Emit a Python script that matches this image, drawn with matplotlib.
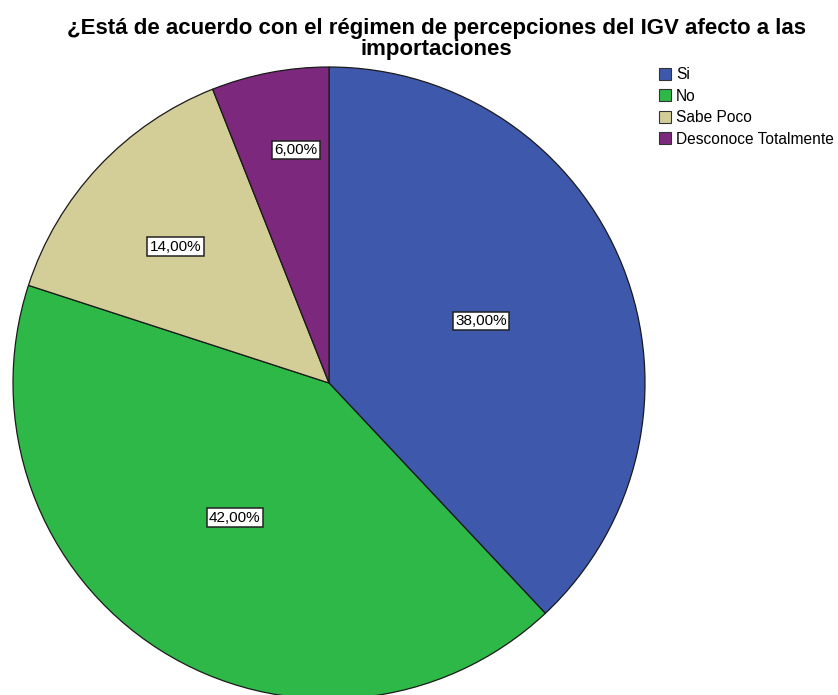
import matplotlib
matplotlib.use("Agg")
import matplotlib.pyplot as plt
import numpy as np
from matplotlib.patches import Patch

categories = ["Si", "No", "Sabe Poco", "Desconoce Totalmente"]
values = [38.0, 42.0, 14.0, 6.0]
colors = ["#3E58AC", "#2EB848", "#D3CE97", "#7B287D"]
title = "¿Está de acuerdo con el régimen de percepciones del IGV afecto a las\nimportaciones"

plt.rcParams['font.family'] = ['Liberation Sans', 'DejaVu Sans']

W, H = 838, 695
fig = plt.figure(figsize=(W / 100, H / 100), dpi=100)
fig.patch.set_facecolor("white")

cx, cy, r = 329, 383, 316
ax = fig.add_axes([(cx - r) / W, (H - cy - r) / H, 2 * r / W, 2 * r / H])

wedges, _ = ax.pie(values, colors=colors, startangle=90, counterclock=False,
                   radius=1, center=(0, 0),
                   wedgeprops=dict(edgecolor="#1a1a1a", linewidth=0.9))
for w in wedges:
    w.set_clip_on(False)
ax.set_xlim(-1, 1)
ax.set_ylim(-1, 1)
ax.set_aspect("equal")
ax.axis("off")

label_dist = [0.52, 0.52, 0.65, 0.745]
angle_adj = [0.6, -2.6, 1.6, -2.8]
total = sum(values)
start = 90.0
for v, d, adj in zip(values, label_dist, angle_adj):
    span = 360.0 * v / total
    mid = np.deg2rad(start - span / 2 + adj)
    start -= span
    ax.text(d * np.cos(mid), d * np.sin(mid), f"{v:.2f}%".replace(".", ","),
            ha="center", va="center", fontsize=11, color="black",
            bbox=dict(boxstyle="square,pad=0.15", facecolor="white",
                      edgecolor="#222222", linewidth=1.1))

fig.text(436 / W, 1 - 39 / H, title, ha="center", va="center",
         fontsize=16, fontweight="bold", linespacing=0.95)

handles = [Patch(facecolor=c, edgecolor="#333333", linewidth=0.8) for c in colors]
fig.legend(handles, categories, loc="upper left",
           bbox_to_anchor=(659 / W, 1 - 67 / H), frameon=False,
           fontsize=11.2, handlelength=0.8, handleheight=0.8,
           handletextpad=0.3, labelspacing=0.42, borderaxespad=0, borderpad=0)

fig.savefig("out.png", dpi=100, facecolor="white")
